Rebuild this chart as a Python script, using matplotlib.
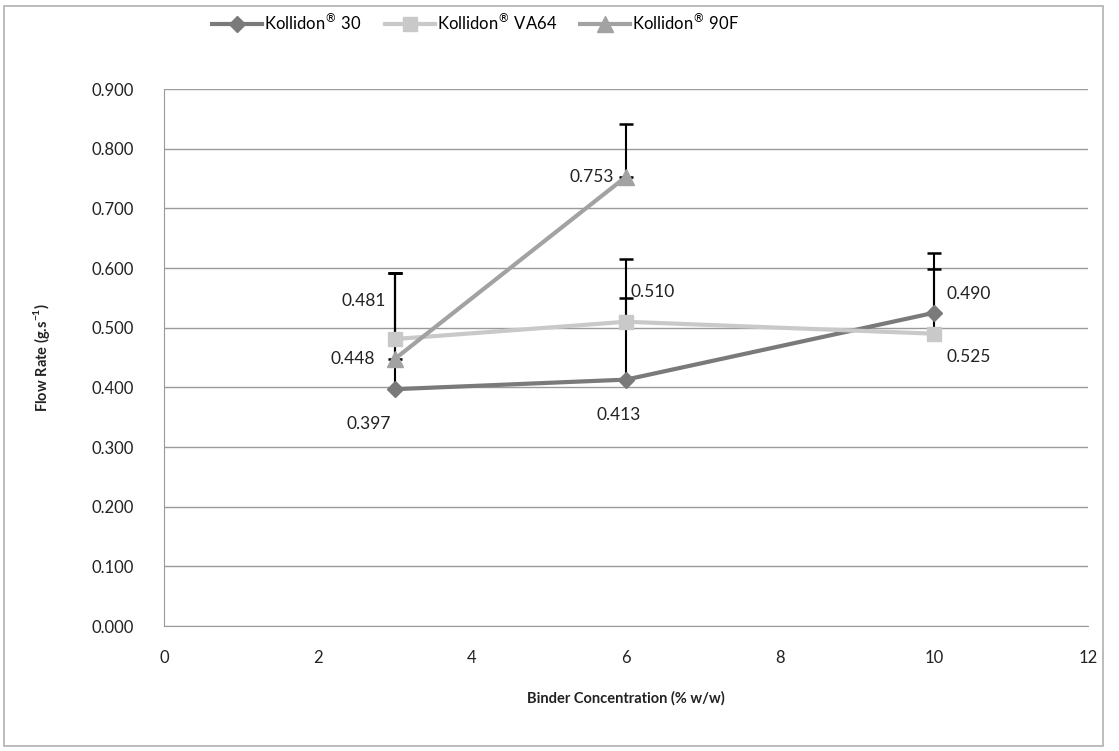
import matplotlib
matplotlib.use('Agg')
import matplotlib.pyplot as plt
from matplotlib.patches import Rectangle

plt.rcParams['font.family'] = ['Lato', 'DejaVu Sans']

# ── Data ───────────────────────────────────────────────────────
conc_k30 = [3, 6, 10]
flow_k30 = [0.397, 0.413, 0.525]
err_k30 = [0.195, 0.202, 0.100]

conc_va64 = [3, 6, 10]
flow_va64 = [0.481, 0.510, 0.490]
err_va64 = [0.110, 0.040, 0.108]

conc_90f = [3, 6]
flow_90f = [0.448, 0.753]
err_90f = [0.144, 0.089]

series_names = ['Kollidon$^{®}$ 30', 'Kollidon$^{®}$ VA64', 'Kollidon$^{®}$ 90F']
y_ticks = [0.0, 0.1, 0.2, 0.3, 0.4, 0.5, 0.6, 0.7, 0.8, 0.9]
x_ticks = [0, 2, 4, 6, 8, 10, 12]

fig = plt.figure(figsize=(11.19, 7.51), dpi=100)
ax = fig.add_axes([0.1466, 0.1664, 0.8257, 0.715])

# outer chart frame
fig.patches.append(Rectangle((0.004, 0.006), 0.982, 0.986, transform=fig.transFigure,
                             fill=False, edgecolor='#b0b0b0', lw=1.2))

series = [
    (conc_k30, flow_k30, err_k30, '#7a7a7a', 'D', 8),
    (conc_va64, flow_va64, err_va64, '#c9c9c9', 's', 10),
    (conc_90f, flow_90f, err_90f, '#a2a2a2', '^', 11),
]

for (x, y, e, col, mk, ms), name in zip(series, series_names):
    ax.errorbar(x, y, yerr=[[0] * len(e), e], fmt='none', ecolor='black',
                elinewidth=1.5, capsize=5, capthick=1.8, zorder=2)
    ax.plot(x, y, color=col, lw=3, marker=mk, ms=ms, mec=col, mfc=col,
            label=name, zorder=3)

# data labels (offsets in pixels)
labels = [
    (3, 0.481, -31, 38, 'center'),
    (3, 0.448, -42, 0, 'center'),
    (3, 0.397, -26, -35, 'center'),
    (6, 0.753, -34, 0, 'center'),
    (6, 0.510, 4, 30, 'left'),
    (6, 0.413, -7, -35, 'center'),
    (10, 0.490, 35, 40, 'center'),
    (10, 0.525, 35, -44, 'center'),
]
for x, v, dx, dy, ha in labels:
    ax.annotate(f'{v:.3f}', (x, v), xytext=(dx, dy), textcoords='offset pixels',
                ha=ha, va='center', fontsize=12.5, color='#222222', zorder=5)

ax.set_xlim(0, 12)
ax.set_ylim(0, 0.9)
ax.set_xticks(x_ticks)
ax.set_yticks(y_ticks)
ax.set_yticklabels([f'{t:.3f}' for t in y_ticks])
ax.tick_params(length=0, labelsize=12, colors='#222222')
ax.tick_params(axis='x', pad=17)
ax.tick_params(axis='y', pad=22)
ax.grid(axis='y', color='#9a9a9a', lw=1)
ax.set_axisbelow(True)
for side in ['top', 'right']:
    ax.spines[side].set_visible(False)
for side in ['left', 'bottom']:
    ax.spines[side].set_color('#9a9a9a')

ax.set_xlabel('Binder Concentration (% w/w)', fontsize=10.5, fontweight='bold',
              color='#222222', labelpad=18)
ax.set_ylabel('Flow Rate (g.s$^{\\mathdefault{-1}}$)', fontsize=10.5, fontweight='bold',
              color='#222222', labelpad=28)

fig.legend(loc='center', bbox_to_anchor=(0.425, 0.97), ncol=3, frameon=False,
           fontsize=12, handlelength=3, handletextpad=0.1, columnspacing=1.4)

fig.savefig('out.png', dpi=100)
